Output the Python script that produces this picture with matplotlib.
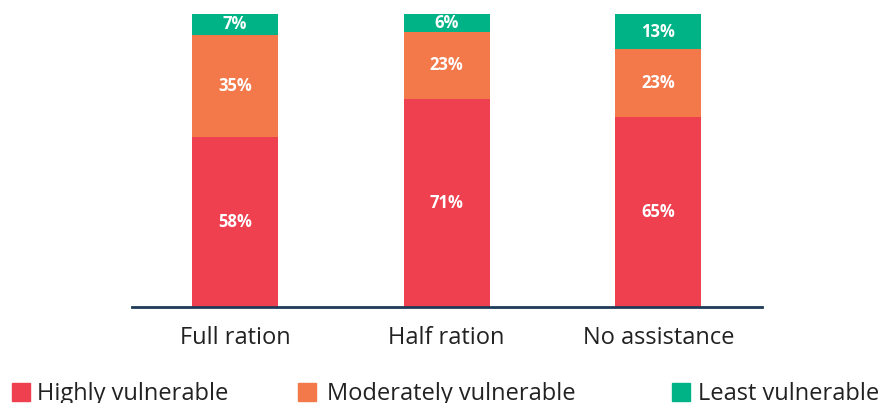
import matplotlib.pyplot as plt
import numpy as np
from matplotlib.patches import Rectangle

plt.rcParams['font.family'] = ['Open Sans', 'DejaVu Sans']

categories = ['Full ration', 'Half ration', 'No assistance']
highly = [58, 71, 65]
moderately = [35, 23, 23]
least = [7, 6, 13]
series_names = ['Highly vulnerable', 'Moderately vulnerable', 'Least vulnerable']
colors = ['#ef4050', '#f3784a', '#00b386']

fig = plt.figure(figsize=(8.82, 4.03), dpi=100)
ax = fig.add_axes([132 / 882, 1 - 307 / 403, 630 / 882, 293 / 403])

x = np.arange(len(categories))
width = 0.407
bottom = np.zeros(len(categories))
for vals, col in zip([highly, moderately, least], colors):
    vals = np.array(vals)
    ax.bar(x, vals, width, bottom=bottom, color=col, zorder=2)
    for xi, b, v in zip(x, bottom, vals):
        top = min(b + v, 100)
        ax.text(xi, (b + top) / 2, f'{v}%', ha='center', va='center', color='white',
                fontsize=12, fontweight='bold', zorder=3)
    bottom += vals

ax.set_xlim(-0.487, 2.49)
ax.set_ylim(0, 100)
ax.set_xticks(x)
ax.set_xticklabels(categories, fontsize=17, color='#222222')
ax.tick_params(axis='x', length=0, pad=14)
ax.set_yticks([])
for s in ['top', 'right', 'left']:
    ax.spines[s].set_visible(False)
ax.spines['bottom'].set_color('#1f3b57')
ax.spines['bottom'].set_linewidth(2)
ax.spines['bottom'].set_zorder(4)

# legend drawn by hand along the bottom
leg_x = [12, 298, 672]
text_x = [37, 327, 698]
for lx, tx, name, col in zip(leg_x, text_x, series_names, colors):
    fig.patches.append(Rectangle((lx / 882, 1 - 401 / 403), 18 / 882, 18 / 403,
                                 transform=fig.transFigure, color=col))
    fig.text(tx / 882, 1 - 394 / 403, name, fontsize=17, color='#222222',
             ha='left', va='center')

fig.savefig('out.png', dpi=100)
